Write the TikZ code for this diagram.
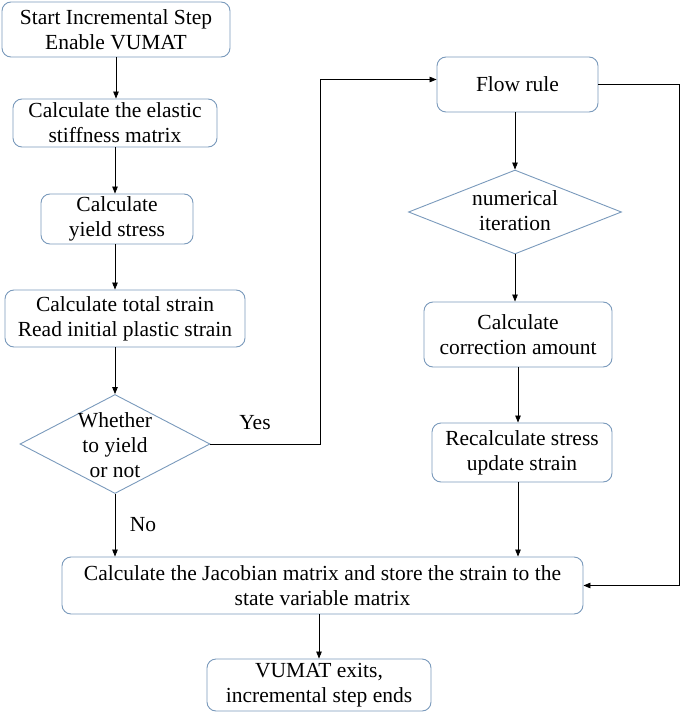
\documentclass[tikz,border=0pt]{standalone}
\usepackage{fontspec}
\setmainfont{Liberation Serif}
\newfontfamily\serf{Liberation Serif}
\usetikzlibrary{arrows.meta,shapes.geometric}
\definecolor{edgeblue}{RGB}{122,154,188}
\tikzset{
  box/.style={draw=edgeblue, line width=0.9pt, rounded corners=9pt, align=center, inner sep=0pt, fill=white},
  dia/.style={draw=edgeblue, line width=0.9pt, shape=diamond, inner sep=0pt, fill=white},
  arr/.style={draw=black, line width=0.8pt, -{Triangle[length=7pt,width=5.5pt]}},
  lbl/.style={inner sep=0pt, align=center},
}
\begin{document}
\begin{tikzpicture}[x=1pt,y=-1pt, every node/.style={font=\serf\fontsize{21.5}{25}\selectfont}]
\useasboundingbox (0,0) rectangle (685,714);
\node[box, minimum width=228pt, minimum height=55pt] (b1) at (116,29.5) {Start Incremental  Step\\Enable VUMAT};
\node[box, minimum width=204pt, minimum height=48pt] (b2) at (115,123) {Calculate the elastic\\stiffness matrix};
\node[box, minimum width=152pt, minimum height=50pt] (b3) at (117,219) {Calculate\\yield stress};
\node[box, minimum width=240pt, minimum height=57pt] (b4) at (125,318.5) {Calculate total strain\\Read initial plastic strain};
\node[dia, minimum width=190pt, minimum height=99pt] (d1) at (115,444) {};
\node[lbl] (d1t) at (115,445) {Whether\\to yield\\or not};
\node[box, minimum width=161pt, minimum height=55pt] (fr) at (517.5,84.5) {Flow rule};
\node[dia, minimum width=213pt, minimum height=84pt] (d2) at (515,212) {};
\node[lbl] (d2t) at (515,211) {numerical\\iteration};
\node[box, minimum width=188pt, minimum height=65pt] (corr) at (518,334.5) {Calculate\\correction amount};
\node[box, minimum width=180pt, minimum height=59pt] (rec) at (522,452.5) {Recalculate stress\\update strain};
\node[box, minimum width=521pt, minimum height=57pt] (jac) at (322.5,585.5) {Calculate the Jacobian matrix and store the strain to the\\state variable matrix};
\node[box, minimum width=224pt, minimum height=52pt] (end) at (319,685) {VUMAT exits,\\incremental step ends};
\node[lbl] (yes) at (255,423) {Yes};
\node[lbl] (no) at (143,525) {No};
\coordinate (yc) at (320,444);
\coordinate (rc) at (679,84.5);
% left column
\draw[arr] (b1.south) -- (b1.south |- b2.north);
\draw[arr] (b2.south) -- (b2.south |- b3.north);
\draw[arr] (b2.south |- b3.south) -- (b2.south |- b4.north);
\draw[arr] (d1.north |- b4.south) -- (d1.north);
\draw[arr] (d1.south) -- (d1.south |- jac.north);
% yes branch
\draw[arr] (d1.east) -- (yc) |- ([yshift=5pt]fr.west);
% right column
\draw[arr] (d2.north |- fr.south) -- (d2.north);
\draw[arr] (d2.south) -- (d2.south |- corr.north);
\draw[arr] (corr.south) -- (corr.south |- rec.north);
\draw[arr] (corr.south |- rec.south) -- (corr.south |- jac.north);
\draw[arr] (fr.east) -- (rc) |- (jac.east);
% bottom
\draw[arr] (end.north |- jac.south) -- (end.north);
\end{tikzpicture}
\end{document}
